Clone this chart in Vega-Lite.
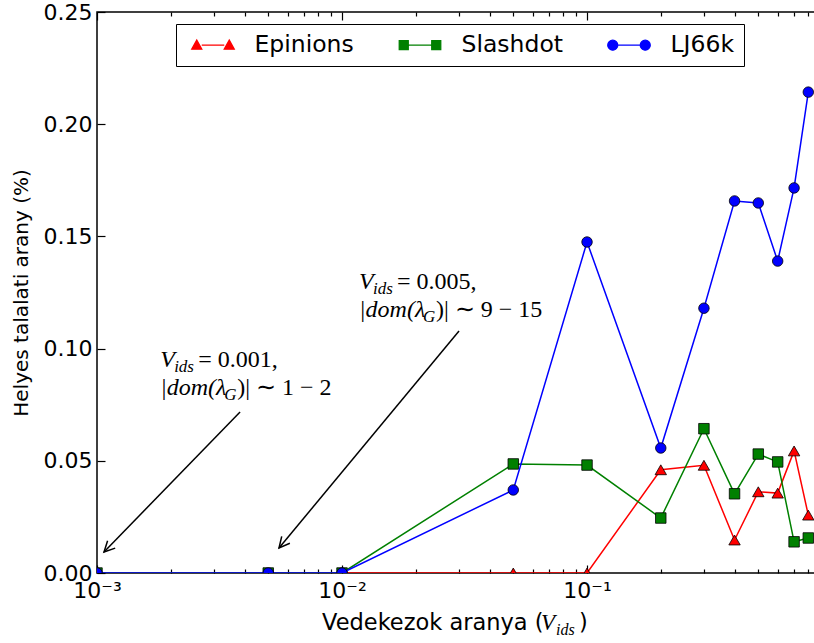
{
  "$schema": "https://vega.github.io/schema/vega-lite/v6.json",
  "width": 718,
  "height": 561,
  "autosize": {"type": "none"},
  "padding": {"left": 97, "top": 12, "right": 0, "bottom": 70},
  "background": "white",
  "config": {
    "view": {"stroke": "black", "strokeWidth": 1.5},
    "axis": {"domain": false, "grid": false, "tickColor": "black", "tickWidth": 1.2, "labelColor": "black", "labelFont": "DejaVu Sans", "labelFontSize": 22, "titleFont": "DejaVu Sans", "titleFontSize": 20, "titleFontWeight": "normal", "titleColor": "black"}
  },
  "datasets": {
    "series": [
      {"series": "Epinions", "x": 0.001, "y": 0},
      {"series": "Epinions", "x": 0.005, "y": 0},
      {"series": "Epinions", "x": 0.01, "y": 0},
      {"series": "Epinions", "x": 0.05, "y": 0},
      {"series": "Epinions", "x": 0.1, "y": 0},
      {"series": "Epinions", "x": 0.2, "y": 0.046},
      {"series": "Epinions", "x": 0.3, "y": 0.048},
      {"series": "Epinions", "x": 0.4, "y": 0.0147},
      {"series": "Epinions", "x": 0.5, "y": 0.0362},
      {"series": "Epinions", "x": 0.6, "y": 0.0356},
      {"series": "Epinions", "x": 0.7, "y": 0.0544},
      {"series": "Epinions", "x": 0.8, "y": 0.0258},
      {"series": "Slashdot", "x": 0.001, "y": 0},
      {"series": "Slashdot", "x": 0.005, "y": 0},
      {"series": "Slashdot", "x": 0.01, "y": 0},
      {"series": "Slashdot", "x": 0.05, "y": 0.0486},
      {"series": "Slashdot", "x": 0.1, "y": 0.0481},
      {"series": "Slashdot", "x": 0.2, "y": 0.0245},
      {"series": "Slashdot", "x": 0.3, "y": 0.0643},
      {"series": "Slashdot", "x": 0.4, "y": 0.0353},
      {"series": "Slashdot", "x": 0.5, "y": 0.053},
      {"series": "Slashdot", "x": 0.6, "y": 0.0495},
      {"series": "Slashdot", "x": 0.7, "y": 0.0139},
      {"series": "Slashdot", "x": 0.8, "y": 0.0156},
      {"series": "LJ66k", "x": 0.001, "y": 0},
      {"series": "LJ66k", "x": 0.005, "y": 0},
      {"series": "LJ66k", "x": 0.01, "y": 0},
      {"series": "LJ66k", "x": 0.05, "y": 0.037},
      {"series": "LJ66k", "x": 0.1, "y": 0.1475},
      {"series": "LJ66k", "x": 0.2, "y": 0.0557},
      {"series": "LJ66k", "x": 0.3, "y": 0.118},
      {"series": "LJ66k", "x": 0.4, "y": 0.1658},
      {"series": "LJ66k", "x": 0.5, "y": 0.1649},
      {"series": "LJ66k", "x": 0.6, "y": 0.139},
      {"series": "LJ66k", "x": 0.7, "y": 0.1716},
      {"series": "LJ66k", "x": 0.8, "y": 0.2143}
    ],
    "arrows": [
      {"id": 1, "x": 0.003836, "y": 0.07175, "x2": 0.001068, "y2": 0.00936},
      {"id": 2, "x": 0.03003, "y": 0.1078, "x2": 0.005532, "y2": 0.01114}
    ],
    "notes": [
      {"x": 0.00181, "y": 0.0918, "v": "= 0.001,", "r": ")| ∼ 1 − 2"},
      {"x": 0.01173, "y": 0.1266, "v": "= 0.005,", "r": ")| ∼ 9 − 15"}
    ],
    "xtitle": [
      {"x": 0.008287, "y": -0.0254, "t": "Vedekezok aranya ("}
    ]
  },
  "resolve": {"axis": {"x": "independent"}},
  "layer": [
    {
      "data": {"name": "arrows"},
      "mark": {"type": "rule", "stroke": "black", "strokeWidth": 1.5},
      "encoding": {
        "x": {"field": "x", "type": "quantitative", "scale": {"type": "log", "domain": [0.001, 0.852], "nice": false}, "axis": null},
        "y": {"field": "y", "type": "quantitative", "scale": {"domain": [0, 0.25], "nice": false, "zero": false}},
        "x2": {"field": "x2"},
        "y2": {"field": "y2"}
      }
    },
    {
      "data": {"name": "series"},
      "transform": [{"filter": "datum.series === 'Epinions'"}],
      "mark": {"type": "line", "strokeWidth": 1.5, "clip": true},
      "encoding": {
        "x": {"field": "x", "type": "quantitative", "scale": {"type": "log", "domain": [0.001, 0.852], "nice": false},
          "axis": {"orient": "bottom", "values": [0.001, 0.01, 0.1], "labelExpr": "datum.value < 0.005 ? '10⁻³' : datum.value < 0.05 ? '10⁻²' : '10⁻¹'", "tickSize": -8, "labelPadding": 15, "labelFlush": false, "title": null}},
        "y": {"field": "y", "type": "quantitative", "scale": {"domain": [0, 0.25], "nice": false, "zero": false},
          "axis": {"values": [0, 0.05, 0.1, 0.15, 0.2, 0.25], "format": ".2f", "tickSize": -8, "labelPadding": 13, "labelFlush": false, "title": "Helyes talalati arany (%)", "titlePadding": 12}},
        "color": {"field": "series", "type": "nominal",
          "scale": {"domain": ["Epinions", "Slashdot", "LJ66k"], "range": ["#ff0000", "#008000", "#0000ff"]},
          "legend": {
            "orient": "none", "legendX": 79, "legendY": 12, "direction": "horizontal", "columns": 3, "title": null,
            "labelFont": "DejaVu Sans", "labelFontSize": 23.5, "labelColor": "black", "symbolSize": 100, "labelOffset": 46,
            "columnPadding": 38, "padding": 9, "strokeColor": "black", "fillColor": "white", "cornerRadius": 0,
            "encode": {"symbols": {"update": {
              "shape": {"signal": "datum.value === 'Epinions' ? 'M 0 -1 L 1 0.8 L -1 0.8 Z M 6.5 -1 L 7.5 0.8 L 5.5 0.8 Z M 1 0 L 5.5 0' : datum.value === 'Slashdot' ? 'M -0.9 -0.9 L 0.9 -0.9 L 0.9 0.9 L -0.9 0.9 Z M 5.6 -0.9 L 7.4 -0.9 L 7.4 0.9 L 5.6 0.9 Z M 0.9 0 L 5.6 0' : 'M 1 0 A 1 1 0 1 1 -1 0 A 1 1 0 1 1 1 0 Z M 7.5 0 A 1 1 0 1 1 5.5 0 A 1 1 0 1 1 7.5 0 Z M 1 0 L 5.5 0'"},
              "stroke": {"signal": "scale('color', datum.value)"},
              "fill": {"signal": "scale('color', datum.value)"},
              "strokeWidth": {"value": 1.3},
              "opacity": {"value": 1}
            }}}
          }}
      }
    },
    {
      "data": {"name": "series"},
      "transform": [{"filter": "datum.series === 'Epinions'"}],
      "mark": {"type": "point", "shape": "triangle-up", "filled": true, "stroke": "black", "strokeWidth": 0.8, "size": 130, "opacity": 1, "clip": true},
      "encoding": {
        "x": {"field": "x", "type": "quantitative", "scale": {"type": "log", "domain": [0.001, 0.852], "nice": false},
          "axis": {"orient": "bottom", "values": [0.002, 0.003, 0.004, 0.005, 0.006, 0.007, 0.008, 0.009, 0.02, 0.03, 0.04, 0.05, 0.06, 0.07, 0.08, 0.09, 0.2, 0.3, 0.4, 0.5, 0.6, 0.7, 0.8], "labels": false, "tickSize": -4, "title": null}},
        "y": {"field": "y", "type": "quantitative", "scale": {"domain": [0, 0.25], "nice": false, "zero": false}},
        "color": {"field": "series", "type": "nominal", "scale": {"domain": ["Epinions", "Slashdot", "LJ66k"], "range": ["#ff0000", "#008000", "#0000ff"]}}
      }
    },
    {
      "data": {"name": "series"},
      "transform": [{"filter": "datum.series === 'Slashdot'"}],
      "mark": {"type": "line", "strokeWidth": 1.5, "clip": true},
      "encoding": {
        "x": {"field": "x", "type": "quantitative", "scale": {"type": "log", "domain": [0.001, 0.852], "nice": false},
          "axis": {"orient": "top", "values": [0.001, 0.01, 0.1], "labels": false, "tickSize": -8, "title": null}},
        "y": {"field": "y", "type": "quantitative", "scale": {"domain": [0, 0.25], "nice": false, "zero": false}},
        "color": {"field": "series", "type": "nominal", "scale": {"domain": ["Epinions", "Slashdot", "LJ66k"], "range": ["#ff0000", "#008000", "#0000ff"]}}
      }
    },
    {
      "data": {"name": "series"},
      "transform": [{"filter": "datum.series === 'Slashdot'"}],
      "mark": {"type": "point", "shape": "square", "filled": true, "stroke": "black", "strokeWidth": 0.8, "size": 110, "opacity": 1, "clip": true},
      "encoding": {
        "x": {"field": "x", "type": "quantitative", "scale": {"type": "log", "domain": [0.001, 0.852], "nice": false},
          "axis": {"orient": "top", "values": [0.002, 0.003, 0.004, 0.005, 0.006, 0.007, 0.008, 0.009, 0.02, 0.03, 0.04, 0.05, 0.06, 0.07, 0.08, 0.09, 0.2, 0.3, 0.4, 0.5, 0.6, 0.7, 0.8], "labels": false, "tickSize": -4, "title": null}},
        "y": {"field": "y", "type": "quantitative", "scale": {"domain": [0, 0.25], "nice": false, "zero": false}},
        "color": {"field": "series", "type": "nominal", "scale": {"domain": ["Epinions", "Slashdot", "LJ66k"], "range": ["#ff0000", "#008000", "#0000ff"]}}
      }
    },
    {
      "data": {"name": "series"},
      "transform": [{"filter": "datum.series === 'LJ66k'"}],
      "mark": {"type": "line", "strokeWidth": 1.5, "clip": true},
      "encoding": {
        "x": {"field": "x", "type": "quantitative", "scale": {"type": "log", "domain": [0.001, 0.852], "nice": false}, "axis": null},
        "y": {"field": "y", "type": "quantitative", "scale": {"domain": [0, 0.25], "nice": false, "zero": false}},
        "color": {"field": "series", "type": "nominal", "scale": {"domain": ["Epinions", "Slashdot", "LJ66k"], "range": ["#ff0000", "#008000", "#0000ff"]}}
      }
    },
    {
      "data": {"name": "series"},
      "transform": [{"filter": "datum.series === 'LJ66k'"}],
      "mark": {"type": "point", "shape": "circle", "filled": true, "stroke": "black", "strokeWidth": 0.8, "size": 110, "opacity": 1, "clip": true},
      "encoding": {
        "x": {"field": "x", "type": "quantitative", "scale": {"type": "log", "domain": [0.001, 0.852], "nice": false}, "axis": null},
        "y": {"field": "y", "type": "quantitative", "scale": {"domain": [0, 0.25], "nice": false, "zero": false}},
        "color": {"field": "series", "type": "nominal", "scale": {"domain": ["Epinions", "Slashdot", "LJ66k"], "range": ["#ff0000", "#008000", "#0000ff"]}}
      }
    },
    {
      "data": {"name": "arrows"},
      "transform": [{"filter": "datum.id === 1"}],
      "mark": {"type": "point", "shape": "M -0.5 1 L 0 0 L 0.5 1", "filled": false, "stroke": "black", "strokeWidth": 1.5, "size": 450, "angle": 224.2, "opacity": 1},
      "encoding": {
        "x": {"field": "x2", "type": "quantitative", "scale": {"type": "log", "domain": [0.001, 0.852], "nice": false}, "axis": null},
        "y": {"field": "y2", "type": "quantitative", "scale": {"domain": [0, 0.25], "nice": false, "zero": false}}
      }
    },
    {
      "data": {"name": "arrows"},
      "transform": [{"filter": "datum.id === 2"}],
      "mark": {"type": "point", "shape": "M -0.5 1 L 0 0 L 0.5 1", "filled": false, "stroke": "black", "strokeWidth": 1.5, "size": 450, "angle": 219.7, "opacity": 1},
      "encoding": {
        "x": {"field": "x2", "type": "quantitative", "scale": {"type": "log", "domain": [0.001, 0.852], "nice": false}, "axis": null},
        "y": {"field": "y2", "type": "quantitative", "scale": {"domain": [0, 0.25], "nice": false, "zero": false}}
      }
    },
    {
      "data": {"name": "notes"},
      "mark": {"type": "text", "text": "V", "align": "left", "baseline": "alphabetic", "font": "Liberation Serif", "fontStyle": "italic", "fontSize": 24, "color": "black"},
      "encoding": {
        "x": {"field": "x", "type": "quantitative", "scale": {"type": "log", "domain": [0.001, 0.852], "nice": false}, "axis": null},
        "y": {"field": "y", "type": "quantitative", "scale": {"domain": [0, 0.25], "nice": false, "zero": false}}
      }
    },
    {
      "data": {"name": "notes"},
      "mark": {"type": "text", "text": "ids", "align": "left", "baseline": "alphabetic", "font": "Liberation Serif", "fontStyle": "italic", "fontSize": 17, "dx": 14, "dy": 5, "color": "black"},
      "encoding": {
        "x": {"field": "x", "type": "quantitative", "scale": {"type": "log", "domain": [0.001, 0.852], "nice": false}, "axis": null},
        "y": {"field": "y", "type": "quantitative", "scale": {"domain": [0, 0.25], "nice": false, "zero": false}}
      }
    },
    {
      "data": {"name": "notes"},
      "mark": {"type": "text", "align": "left", "baseline": "alphabetic", "font": "Liberation Serif", "fontSize": 24, "dx": 38, "color": "black"},
      "encoding": {
        "x": {"field": "x", "type": "quantitative", "scale": {"type": "log", "domain": [0.001, 0.852], "nice": false}, "axis": null},
        "y": {"field": "y", "type": "quantitative", "scale": {"domain": [0, 0.25], "nice": false, "zero": false}},
        "text": {"field": "v"}
      }
    },
    {
      "data": {"name": "notes"},
      "mark": {"type": "text", "text": "|dom(λ", "align": "left", "baseline": "alphabetic", "font": "Liberation Serif", "fontStyle": "italic", "fontSize": 24, "dy": 28, "color": "black"},
      "encoding": {
        "x": {"field": "x", "type": "quantitative", "scale": {"type": "log", "domain": [0.001, 0.852], "nice": false}, "axis": null},
        "y": {"field": "y", "type": "quantitative", "scale": {"domain": [0, 0.25], "nice": false, "zero": false}}
      }
    },
    {
      "data": {"name": "notes"},
      "mark": {"type": "text", "text": "G", "align": "left", "baseline": "alphabetic", "font": "Liberation Serif", "fontStyle": "italic", "fontSize": 17, "dx": 64, "dy": 33, "color": "black"},
      "encoding": {
        "x": {"field": "x", "type": "quantitative", "scale": {"type": "log", "domain": [0.001, 0.852], "nice": false}, "axis": null},
        "y": {"field": "y", "type": "quantitative", "scale": {"domain": [0, 0.25], "nice": false, "zero": false}}
      }
    },
    {
      "data": {"name": "notes"},
      "mark": {"type": "text", "align": "left", "baseline": "alphabetic", "font": "Liberation Serif", "fontSize": 24, "dx": 77, "dy": 28, "color": "black"},
      "encoding": {
        "x": {"field": "x", "type": "quantitative", "scale": {"type": "log", "domain": [0.001, 0.852], "nice": false}, "axis": null},
        "y": {"field": "y", "type": "quantitative", "scale": {"domain": [0, 0.25], "nice": false, "zero": false}},
        "text": {"field": "r"}
      }
    },
    {
      "data": {"name": "xtitle"},
      "mark": {"type": "text", "align": "left", "baseline": "alphabetic", "font": "DejaVu Sans", "fontSize": 22.5, "color": "black"},
      "encoding": {
        "x": {"field": "x", "type": "quantitative", "scale": {"type": "log", "domain": [0.001, 0.852], "nice": false}, "axis": null},
        "y": {"field": "y", "type": "quantitative", "scale": {"domain": [0, 0.25], "nice": false, "zero": false}},
        "text": {"field": "t"}
      }
    },
    {
      "data": {"name": "xtitle"},
      "mark": {"type": "text", "text": "V", "align": "left", "baseline": "alphabetic", "font": "Liberation Serif", "fontStyle": "italic", "fontSize": 23, "dx": 219, "color": "black"},
      "encoding": {
        "x": {"field": "x", "type": "quantitative", "scale": {"type": "log", "domain": [0.001, 0.852], "nice": false}, "axis": null},
        "y": {"field": "y", "type": "quantitative", "scale": {"domain": [0, 0.25], "nice": false, "zero": false}}
      }
    },
    {
      "data": {"name": "xtitle"},
      "mark": {"type": "text", "text": "ids", "align": "left", "baseline": "alphabetic", "font": "Liberation Serif", "fontStyle": "italic", "fontSize": 16, "dx": 234, "dy": 5, "color": "black"},
      "encoding": {
        "x": {"field": "x", "type": "quantitative", "scale": {"type": "log", "domain": [0.001, 0.852], "nice": false}, "axis": null},
        "y": {"field": "y", "type": "quantitative", "scale": {"domain": [0, 0.25], "nice": false, "zero": false}}
      }
    },
    {
      "data": {"name": "xtitle"},
      "mark": {"type": "text", "text": ")", "align": "left", "baseline": "alphabetic", "font": "DejaVu Sans", "fontSize": 22.5, "dx": 257, "color": "black"},
      "encoding": {
        "x": {"field": "x", "type": "quantitative", "scale": {"type": "log", "domain": [0.001, 0.852], "nice": false}, "axis": null},
        "y": {"field": "y", "type": "quantitative", "scale": {"domain": [0, 0.25], "nice": false, "zero": false}}
      }
    }
  ]
}
